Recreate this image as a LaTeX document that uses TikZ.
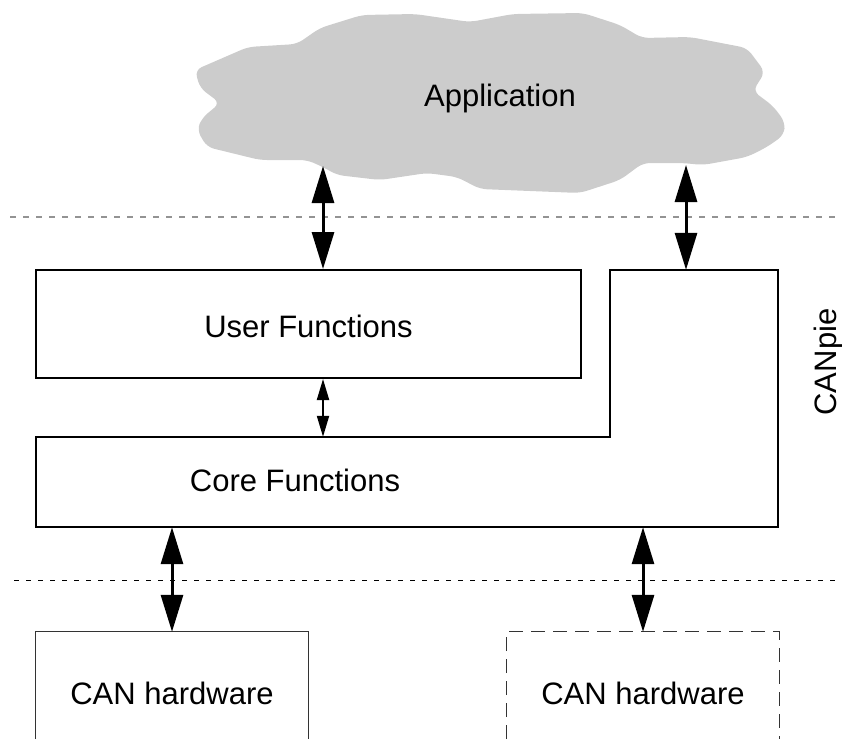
\documentclass[tikz,border=0pt]{standalone}
\usepackage{fontspec}
\setmainfont{Liberation Sans}
\usetikzlibrary{arrows.meta,positioning}

\begin{document}
\begin{tikzpicture}[x=1pt,y=-1pt,
    lbl/.style={font=\fontsize{31}{37}\selectfont,inner sep=0pt},
    blk/.style={draw=black,line width=2pt,inner sep=0pt},
    hw/.style={inner sep=0pt,minimum width=272pt,minimum height=107pt},
    dbl/.style={{Triangle[length=37pt,width=22pt]}-{Triangle[length=37pt,width=22pt]},line width=3pt},
    sml/.style={{Triangle[length=21pt,width=12pt]}-{Triangle[length=21pt,width=12pt]},line width=2pt},
    sepa/.style={dash pattern=on 6pt off 7pt,line width=1.5pt,gray!85},
    sepb/.style={dash pattern=on 5pt off 7pt,line width=1pt,black}
  ]
    \useasboundingbox (0,0) rectangle (842,739);
    % application cloud
    \fill[gray!40,rounded corners=7pt] (195,70) -- (248,47) -- (297,44) -- (320,28) -- (362,15) -- (415,14) -- (470,22) -- (513,14) -- (583,13) -- (620,25) -- (642,38) -- (690,37) -- (747,48) -- (765,72) -- (753,91) -- (773,106) -- (785,122) -- (784,135) -- (767,147) -- (747,157) -- (703,165) -- (683,163) -- (643,163) -- (620,180) -- (580,193) -- (480,189) -- (457,177) -- (427,173) -- (380,180) -- (337,175) -- (323,167) -- (307,160) -- (260,160) -- (207,147) -- (197,130) -- (202,118) -- (220,103) -- (200,88) -- cycle;
    \node[lbl,anchor=base] (app) at (500,106) {Application};
    \coordinate (appL) at (323,166); \coordinate (appR) at (686,165);
    \draw[sepa] (10,217) -- (842,217);
    \draw[sepb] (14,580) -- (842,580);
    % CANpie layers
    \node[blk,minimum width=545pt,minimum height=108pt] (user) at (308.5,324) {};
    \node[lbl,anchor=base] (userlbl) at (user.center) [yshift=-13pt] {User Functions};
    \node[inner sep=0pt,minimum width=742pt,minimum height=90pt] (core) at (407,482) {};
    \node[inner sep=0pt,minimum width=168pt,minimum height=167pt] (coreup) at (694,353.5) {};
    \draw[line width=2pt] (core.north west) -- (core.north west -| coreup.west) -- (coreup.north west) -- (coreup.north east) -- (core.south east) -- (core.south west) -- cycle;
    \node[lbl,anchor=base] (corelbl) at (295,491) {Core Functions};
    \node[lbl,anchor=base,rotate=90] (canpie) at (836,362) {CANpie};
    % hardware
    \node[hw] (hw1) at (172,685.5) {}; \node[hw] (hw2) at (643,685.5) {};
    \draw[line width=1pt,black!80] (hw1.south west) -- (hw1.north west) -- (hw1.north east) -- (hw1.south east);
    \draw[line width=1pt,black!80,dash pattern=on 14pt off 8pt] (hw2.south west) -- (hw2.north west) -- (hw2.north east) -- (hw2.south east);
    \node[lbl,anchor=base] (hw1lbl) at (172,704) {CAN hardware};
    \node[lbl,anchor=base] (hw2lbl) at (643,704) {CAN hardware};
    % interfaces
    \draw[dbl] (appL) -- (appL |- user.north);
    \draw[dbl] (appR) -- (appR |- coreup.north);
    \draw[sml] (appL |- user.south) -- (appL |- core.north);
    \draw[dbl] (core.south -| hw1.north) -- (hw1.north);
    \draw[dbl] (core.south -| hw2.north) -- (hw2.north);
  \end{tikzpicture}
\end{document}
